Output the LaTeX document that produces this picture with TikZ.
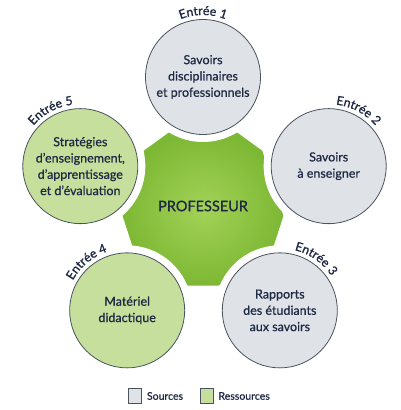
\documentclass[tikz,border=0pt]{standalone}
\usepackage{fontspec}
\setmainfont{Lato}[FakeBold=0.6]
\newfontfamily\entfam{Lato}[FakeBold=1.1]
\newfontfamily\proffam{Lato}[FakeBold=1.0]
\usetikzlibrary{decorations.text}
\definecolor{navy}{HTML}{1E2843}
\definecolor{grayfill}{HTML}{DFE3E7}
\definecolor{greenfill}{HTML}{C6DF9C}
\definecolor{rim}{HTML}{4A535E}
\definecolor{gA}{HTML}{A3D257}
\definecolor{gB}{HTML}{7DB834}
\newcommand\entfont{\entfam\fontsize{12.3}{14}\selectfont\color{navy}}
\tikzset{
  disc/.style={circle, minimum size=115pt, inner sep=0pt, draw=rim, line width=0.8pt,
    align=center, text=navy, font=\fontsize{12.5}{16.3}\selectfont},
  src/.style={disc, fill=grayfill},
  res/.style={disc, fill=greenfill},
  gap/.style={fill=white},
  entree/.style={decorate, decoration={text along path, text align=center, text={|\entfont|#1}}},
  legbox/.style={draw=rim, line width=0.6pt, minimum width=13pt, minimum height=15pt, inner sep=0pt},
  legtext/.style={anchor=west, inner sep=0pt, text=navy, font=\fontsize{10.5}{12}\selectfont}
}
\begin{document}
\begin{tikzpicture}[x=1pt,y=1pt]
\useasboundingbox (0,0) rectangle (400,410);
\fill[white] (0,0) rectangle (400,410);
\coordinate (O) at (203,204);
\foreach \i/\a/\dx in {1/90/0,2/18/3,3/-54/1,4/-126/0,5/162/0}
  \coordinate (c\i) at ([shift={(\a:129)},xshift=\dx pt]O);
% central shape
\shade[inner color=gA, outer color=gB]
  ([shift={(115:81)}]O) -- ([shift={(65:81)}]O) -- ([shift={(43:81)}]O) --
  ([shift={(-7:81)}]O) -- ([shift={(-29:81)}]O) -- ([shift={(-79:81)}]O) --
  ([shift={(-101:81)}]O) -- ([shift={(-151:81)}]O) -- ([shift={(-173:81)}]O) --
  ([shift={(137:81)}]O) -- cycle;
\node[text=navy, font=\proffam\fontsize{14.5}{16}\selectfont] (prof) at (O) {PROFESSEUR};
% white gaps
\foreach \i in {1,...,5} \fill[gap] (c\i) circle (65);
% circles
\node[src] (n1) at (c1) {Savoirs\\disciplinaires\\et professionnels};
\node[src] (n2) at (c2) {Savoirs\\à enseigner};
\node[src] (n3) at (c3) {Rapports\\des étudiants\\aux savoirs};
\node[res] (n4) at (c4) {Matériel\\didactique};
\node[res] (n5) at (c5) {Stratégies\\d’enseignement,\\d’apprentissage\\et d’évaluation};
% labels
\path[entree={Entrée 1}] ([shift={(150:62)}]n1.center) arc[start angle=150, end angle=30, radius=62];
\path[entree={Entrée 2}] ([shift={(122:62)}]n2.center) arc[start angle=122, end angle=2, radius=62];
\path[entree={Entrée 3}] ([shift={(115:62)}]n3.center) arc[start angle=115, end angle=-5, radius=62];
\path[entree={Entrée 4}] ([shift={(190:62)}]n4.center) arc[start angle=190, end angle=70, radius=62];
\path[entree={Entrée 5}] ([shift={(178:62)}]n5.center) arc[start angle=178, end angle=58, radius=62];
% legend
\node[legbox, fill=grayfill] (ls) at (135,14) {};
\node[legtext] (lst) at ([xshift=5pt]ls.east) {Sources};
\node[legbox, fill=greenfill] (lr) at (206.5,14) {};
\node[legtext] (lrt) at ([xshift=5pt]lr.east) {Ressources};
\end{tikzpicture}
\end{document}
